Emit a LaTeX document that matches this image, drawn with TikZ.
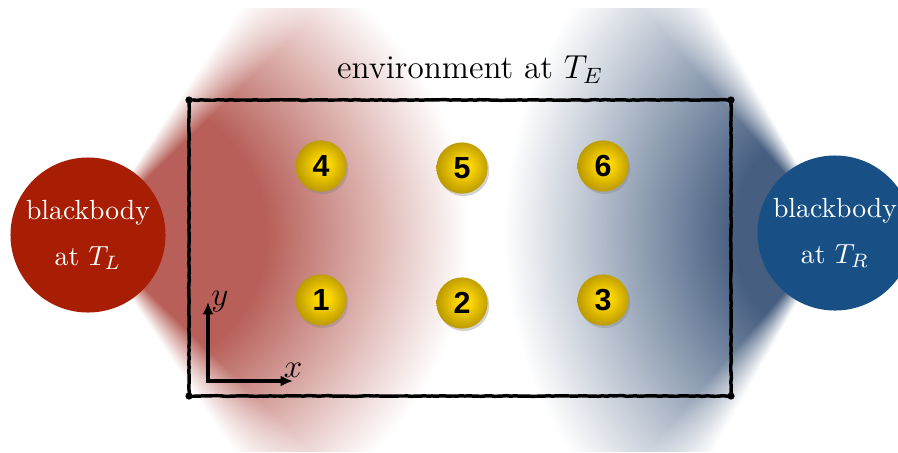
\documentclass[tikz,border=0pt]{standalone}
\usepackage{fontspec}
\newfontfamily\numfont{Liberation Sans}
\usepackage{xcolor}
\definecolor{hotred}{RGB}{168, 30, 5}
\definecolor{coldblue}{RGB}{24, 80, 134}
\definecolor{ballhi}{RGB}{252, 214, 0}
\definecolor{balllo}{RGB}{190, 156, 0}
\usepackage{tikz}
\usetikzlibrary{arrows.meta,shadows,decorations.pathmorphing}

% glow of both blackbodies (red cone from the left, blue cone from the right)
\pgfdeclarefunctionalshading{glows}{\pgfpointorigin}{\pgfpoint{323.28bp}{159.84bp}}{}{
  0.36 div exch 0.36 div exch
  2 copy 217 sub abs 1.15 mul exch 88 sub
  2 copy atan 60 exch sub 12 div
  dup 0 lt {pop 0} if dup 1 gt {pop 1} if
  3 1 roll dup mul exch dup mul add sqrt
  380 exch sub 203 div
  dup 0 lt {pop 0} if dup 1 gt {pop 1} if
  mul
  3 1 roll
  219 sub abs 0.9 mul exch 835 sub neg
  2 copy atan 58 exch sub 12 div
  dup 0 lt {pop 0} if dup 1 gt {pop 1} if
  3 1 roll dup mul exch dup mul add sqrt
  332 exch sub 230 div
  dup 0 lt {pop 0} if dup 1 gt {pop 1} if
  mul
  1 index 0.282 mul 1 index 0.7255 mul add 1 exch sub
  3 1 roll
  1 index 0.627 mul 1 index 0.631 mul add 1 exch sub
  3 1 roll
  0.498 mul exch 0.655 mul add 1 exch sub
}
\pgfdeclareradialshading{goldball}{\pgfpoint{2bp}{1.5bp}}{color(0bp)=(ballhi); color(7bp)=(ballhi); color(25bp)=(balllo); color(50bp)=(balllo)}

\begin{document}
\begin{tikzpicture}[x=0.0127cm, y=0.0127cm,
    body/.style={circle, inner sep=0pt, minimum size=56pt, text=white, align=center},
    ball/.style={circle, inner sep=0pt, minimum size=18.5pt, shading=goldball,
        drop shadow={opacity=0.35, shadow xshift=0.6pt, shadow yshift=-0.9pt},
        font=\numfont\bfseries\fontsize{11}{11}\selectfont},
    axis/.style={{Latex[length=4.5pt,width=4pt]}-{Latex[length=4.5pt,width=4pt]}, line width=1.1pt},
    box/.style={line width=1.25pt, decorate, decoration={random steps, segment length=1.5pt, amplitude=0.12pt}}]

    \useasboundingbox (0,0) rectangle (898,452);

    % Glow cones
    \node[inner sep=0pt, anchor=south west] (glow) at (0,0) {\pgfuseshading{glows}};

    % Environment box
    \coordinate (sw) at (189,56);
    \coordinate (ne) at (731,352);
    \draw[box] (sw) rectangle (ne);
    \foreach \c in {sw, ne} {
        \fill (\c) circle (1.3pt);
    }
    \fill (sw -| ne) circle (1.3pt);
    \fill (sw |- ne) circle (1.3pt);
    \node[font=\large] (env) at (470,382) {environment at $T_E$};

    % Blackbodies
    \node[body, fill=hotred] (hot) at (88,217) {blackbody\\[4.5pt]at $T_L$};
    \node[body, fill=coldblue] (cold) at (835,219) {blackbody\\[4.5pt]at $T_R$};

    % Particles
    \foreach \n/\x/\y in {1/321/152, 2/462/149, 3/603/152, 4/321/286, 5/462/284, 6/603/286}
        \node[ball] (b\n) at (\x,\y) {\n};

    % Axes
    \coordinate (o) at (208,71);
    \coordinate (xe) at (293,71);
    \coordinate (ye) at (208,150);
    \draw[axis] (ye) -- (o) -- (xe);
    \node[above, inner sep=1pt, font=\large] (xl) at (xe) {$x$};
    \node[right, inner sep=1pt, font=\large] (yl) at (ye) {$y$};
\end{tikzpicture}
\end{document}
